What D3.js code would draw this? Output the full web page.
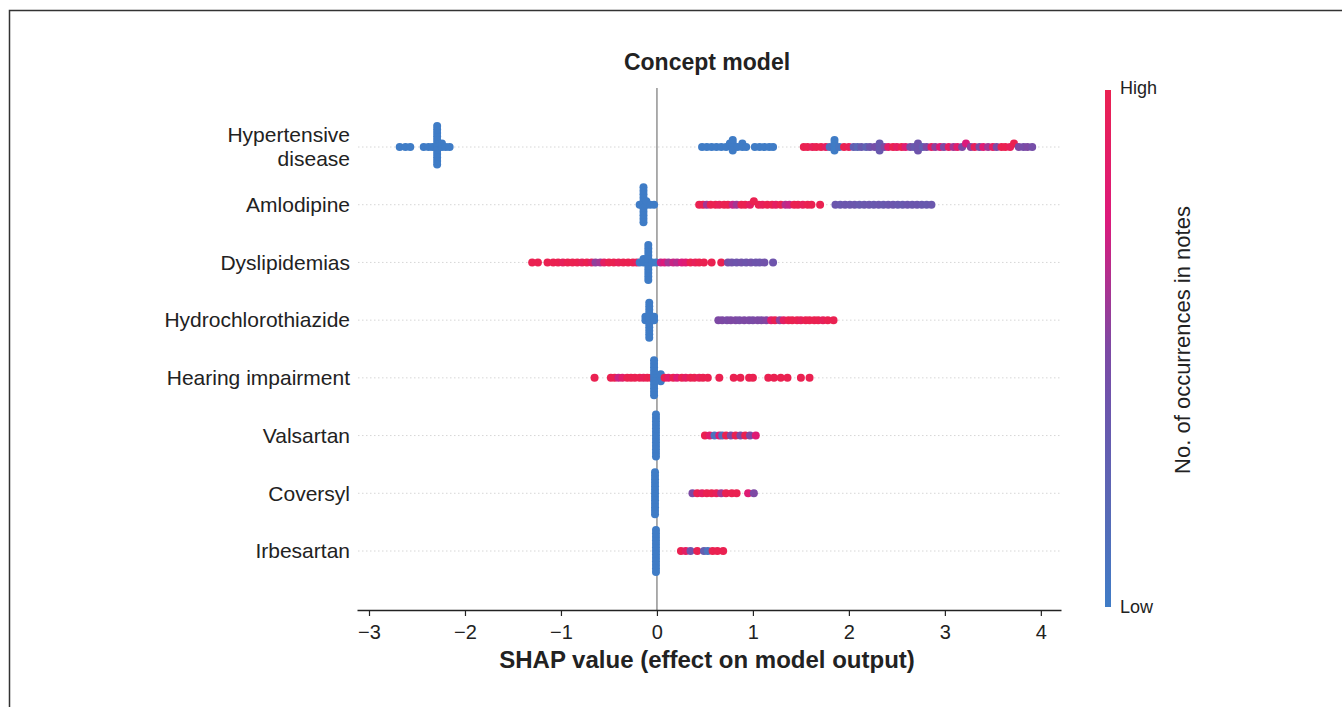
<!DOCTYPE html>
<html lang="en">
<head>
<meta charset="UTF-8">
<title>Concept model</title>
<script src="https://cdn.jsdelivr.net/npm/d3@7"></script>
<style>
  body { margin: 0; background: #fff; }
  text { font-family: "Liberation Sans", Arial, sans-serif; fill: #222; }
</style>
</head>
<body>
<div id="chart"></div>
<script>
// features, top to bottom
const features = ["Hypertensive disease", "Amlodipine", "Dyslipidemias", "Hydrochlorothiazide",
  "Hearing impairment", "Valsartan", "Coversyl", "Irbesartan"];

// [shap value, feature level 0=low..1=high, count]
const hypertensive = [
  [-2.68,0],[-2.62,0],[-2.57,0],
  [-2.43,0],[-2.38,0],[-2.34,0],[-2.29,0,12],[-2.24,0,2],[-2.20,0],[-2.16,0],
  [0.47,0],[0.52,0],[0.57,0],[0.62,0],[0.67,0],[0.72,0],[0.76,0],[0.79,0,4],[0.84,0],[0.89,0,2],[0.93,0],
  [1.02,0],[1.07,0],[1.12,0],[1.17,0],[1.21,0],
  [1.53,1],[1.57,1],[1.62,0.95],[1.66,1],[1.71,1],[1.76,0.9],
  [1.80,0.1],[1.85,0,4],[1.90,0.05],
  [1.95,1],[2.00,0.95],[2.05,0.3],[2.09,0.2],[2.13,0.35],[2.18,0.25],[2.22,0.4],[2.27,0.45],[2.32,0.35,3],[2.37,0.5],
  [2.41,0.85],[2.46,1],[2.50,0.9],[2.55,1],[2.59,0.8],[2.64,0.45],[2.68,0.35],[2.72,0.4,2],[2.77,0.3],[2.81,0.5],
  [2.86,0.9],[2.90,0.55],[2.95,0.8],[2.99,0.5],[3.04,0.9],[3.09,0.6],[3.13,0.85],[3.18,0.5],[3.22,0.75],[3.27,0.55],
  [3.31,0.95],[3.36,0.5],[3.40,0.8],[3.45,0.6],[3.50,0.9],[3.54,0.5],[3.59,1],[3.63,1],[3.68,0.95],[3.72,1],
  [3.77,0.5],[3.82,0.45],[3.86,0.5],[3.91,0.45]
];
const amlodipine = [
  [-0.18,0],[-0.14,0,11],[-0.11,0,2],[-0.07,0],[-0.03,0],
  [0.44,1],[0.48,1],[0.52,0.6],[0.56,1],[0.61,1],[0.65,0.95],[0.70,1],[0.74,1],[0.79,0.7],[0.83,0.6],
  [0.88,1],[0.92,1],[0.97,0.9],[1.01,1],[1.06,1],[1.10,0.95],[1.15,1],[1.20,1],[1.24,0.9],[1.29,1],
  [1.34,0.65],[1.38,0.7],[1.43,1],[1.47,1],[1.52,0.95],[1.57,1],[1.61,1],[1.70,1],
  [1.86,0.38],[1.91,0.36],[1.96,0.38],[2.01,0.37],[2.06,0.38],[2.11,0.35],[2.16,0.37],[2.21,0.38],[2.26,0.36],
  [2.31,0.38],[2.36,0.35],[2.41,0.37],[2.46,0.38],[2.51,0.36],[2.56,0.35],[2.61,0.38],[2.66,0.37],[2.71,0.38],
  [2.76,0.36],[2.81,0.35],[2.86,0.37]
];
const dyslipidemias = [
  [-1.30,1],[-1.24,1],[-1.14,1],[-1.08,1],[-1.03,1],[-0.98,0.95],[-0.93,1],[-0.88,1],[-0.83,1],[-0.78,0.95],
  [-0.73,1],[-0.68,0.9],[-0.64,0.55],[-0.59,0.6],[-0.55,0.9],[-0.50,1],[-0.45,1],[-0.40,0.95],[-0.35,1],
  [-0.30,1],[-0.25,1],[-0.21,0.95],
  [-0.18,0],[-0.14,0,2],[-0.09,0,11],[-0.05,0],[-0.01,0],
  [0.04,0.7],[0.08,0.75],[0.12,0.6],[0.17,0.7],[0.21,0.65],[0.26,0.75],[0.30,0.8],[0.35,1],[0.40,0.95],
  [0.44,1],[0.49,1],[0.57,1],[0.67,1],[0.74,0.45],[0.78,0.42],[0.83,0.4],[0.88,0.42],[0.93,0.4],[0.98,0.42],
  [1.03,0.4],[1.07,0.4],[1.12,0.42],[1.21,0.4]
];
const hydrochlorothiazide = [
  [-0.12,0,2],[-0.08,0,11],[-0.03,0,2],
  [0.64,0.5],[0.68,0.5],[0.73,0.48],[0.77,0.5],[0.82,0.5],[0.86,0.48],[0.91,0.5],[0.96,0.5],[1.00,0.48],
  [1.05,0.5],[1.09,0.5],[1.14,0.52],[1.19,0.85],[1.23,1],[1.28,0.55],[1.32,0.9],[1.37,1],[1.41,1],
  [1.46,1],[1.50,0.95],[1.55,1],[1.59,1],[1.64,1],[1.68,1],[1.73,0.95],[1.78,1],[1.84,1]
];
const hearing = [
  [-0.65,1],[-0.48,1],[-0.44,1],[-0.40,0.7],[-0.36,0.85],[-0.31,1],[-0.27,1],[-0.23,1],[-0.18,1],
  [-0.14,0.95],[-0.10,1],[-0.06,1],
  [-0.03,0,11],[0.04,0,3],
  [0.08,1],[0.12,0.85],[0.17,1],[0.21,0.8],[0.26,1],[0.30,0.9],[0.35,1],[0.39,1],[0.44,0.95],[0.48,1],[0.53,1],
  [0.65,1],[0.80,1],[0.87,1],[0.96,1],[1.00,1],[1.16,1],[1.22,1],[1.29,1],[1.36,1],[1.50,1],[1.59,1]
];
const valsartan = [
  [-0.01,0,13],
  [0.50,1],[0.55,0.85],[0.60,0.1],[0.65,0.8],[0.68,0.15],[0.72,1],[0.77,0.5],[0.82,1],[0.87,0.5],
  [0.92,1],[0.97,0.5],[1.03,0.8]
];
const coversyl = [
  [-0.02,0,13],
  [0.37,0.5],[0.42,1],[0.47,0.9],[0.52,1],[0.57,1],[0.62,0.95],[0.67,0.6],[0.72,1],[0.78,1],[0.83,1],
  [0.95,0.8],[1.01,0.5]
];
const irbesartan = [
  [-0.01,0,13],
  [0.25,1],[0.30,0.9],[0.35,0.4],[0.42,1],[0.49,0.3],[0.53,0.1],[0.58,1],[0.63,1],[0.69,1]
];
const rows = [hypertensive, amlodipine, dyslipidemias, hydrochlorothiazide, hearing, valsartan, coversyl, irbesartan];
const xTicks = [-3, -2, -1, 0, 1, 2, 3, 4];

const width = 1342, height = 707;

const svg = d3.select("#chart").append("svg")
  .attr("width", width)
  .attr("height", height);

// frame
svg.append("rect")
  .attr("x", 9.5).attr("y", 10.5)
  .attr("width", 2000).attr("height", 2000)
  .attr("fill", "none")
  .attr("stroke", "#333")
  .attr("stroke-width", 1.5);

const x = d3.scaleLinear().domain([-3.125, 4.21]).range([357, 1061]);
const y = d3.scalePoint().domain(features).range([147, 551]);

const color = d3.scaleLinear()
  .domain([0, 0.2, 0.38, 0.5, 0.75, 1])
  .range(["#3f7cc6", "#5a68b5", "#6b56ad", "#7d49a4", "#dc1a7c", "#ea2151"]);

// dotted row guides
svg.append("g").selectAll("line")
  .data(features)
  .join("line")
  .attr("x1", 358).attr("x2", 1060)
  .attr("y1", d => y(d)).attr("y2", d => y(d))
  .attr("stroke", "#d6d6d6")
  .attr("stroke-width", 1)
  .attr("stroke-dasharray", "1.5,2.5");

// zero line
svg.append("line")
  .attr("x1", x(0)).attr("x2", x(0))
  .attr("y1", 88).attr("y2", 610)
  .attr("stroke", "#999")
  .attr("stroke-width", 1.6);

// beeswarm style layout: stack points sharing an x bin
const spacing = 3.5;
const dots = [];
rows.forEach((pts, i) => {
  const bins = new Map();
  pts.forEach(p => {
    const n = p[2] || 1;
    for (let j = 0; j < n; j++) {
      const px = x(p[0]);
      const b = Math.round(px / 4);
      const k = bins.get(b) || 0;
      bins.set(b, k + 1);
      const off = k === 0 ? 0 : Math.ceil(k / 2) * spacing * (k % 2 ? -1 : 1);
      dots.push({ cx: px, cy: y(features[i]) + off, c: p[1] });
    }
  });
});

svg.append("g").selectAll("circle")
  .data(dots)
  .join("circle")
  .attr("cx", d => d.cx)
  .attr("cy", d => d.cy)
  .attr("r", 4)
  .attr("fill", d => color(d.c));

// x axis
const xAxis = svg.append("g")
  .attr("transform", "translate(0,610)")
  .call(d3.axisBottom(x).tickValues(xTicks).tickSize(6).tickSizeOuter(0).tickFormat(d3.format("d")));
xAxis.attr("font-size", 20).attr("font-family", "Liberation Sans, Arial, sans-serif");
xAxis.select(".domain").attr("stroke", "#222").attr("stroke-width", 1.5);
xAxis.selectAll(".tick line").attr("stroke", "#222").attr("stroke-width", 1.2);
xAxis.selectAll(".tick text")
  .attr("y", 15)
  .style("font-size", "20px")
  .style("fill", "#222");

svg.append("text")
  .attr("x", 707).attr("y", 668)
  .attr("text-anchor", "middle")
  .style("font-size", "24px")
  .style("font-weight", "bold")
  .text("SHAP value (effect on model output)");

// y labels
const ylab = svg.append("g");
features.forEach(f => {
  if (f === "Hypertensive disease") {
    ylab.append("text").attr("x", 350).attr("y", y(f) - 12).attr("dy", "0.35em")
      .attr("text-anchor", "end").style("font-size", "21px").text("Hypertensive");
    ylab.append("text").attr("x", 350).attr("y", y(f) + 12).attr("dy", "0.35em")
      .attr("text-anchor", "end").style("font-size", "21px").text("disease");
  } else {
    ylab.append("text").attr("x", 350).attr("y", y(f)).attr("dy", "0.35em")
      .attr("text-anchor", "end").style("font-size", "21px").text(f);
  }
});

// title
svg.append("text")
  .attr("x", 707).attr("y", 70)
  .attr("text-anchor", "middle")
  .style("font-size", "23px")
  .style("font-weight", "bold")
  .text("Concept model");

// colour bar
const grad = svg.append("defs").append("linearGradient")
  .attr("id", "cbar")
  .attr("x1", 0).attr("x2", 0).attr("y1", 1).attr("y2", 0);
d3.range(0, 1.0001, 0.05).forEach(t => {
  grad.append("stop").attr("offset", t).attr("stop-color", color(t));
});
const cbTop = 90, cbBottom = 607;
svg.append("rect")
  .attr("x", 1105).attr("y", cbTop)
  .attr("width", 6).attr("height", cbBottom - cbTop)
  .attr("fill", "url(#cbar)");
svg.append("text").attr("x", 1120).attr("y", cbTop - 2).attr("dy", "0.35em")
  .style("font-size", "18px").text("High");
svg.append("text").attr("x", 1120).attr("y", cbBottom).attr("dy", "0.35em")
  .style("font-size", "18px").text("Low");
svg.append("text")
  .attr("transform", "translate(1182,340) rotate(-90)")
  .attr("text-anchor", "middle")
  .attr("dy", "0.35em")
  .style("font-size", "22px")
  .text("No. of occurrences in notes");
</script>
</body>
</html>
